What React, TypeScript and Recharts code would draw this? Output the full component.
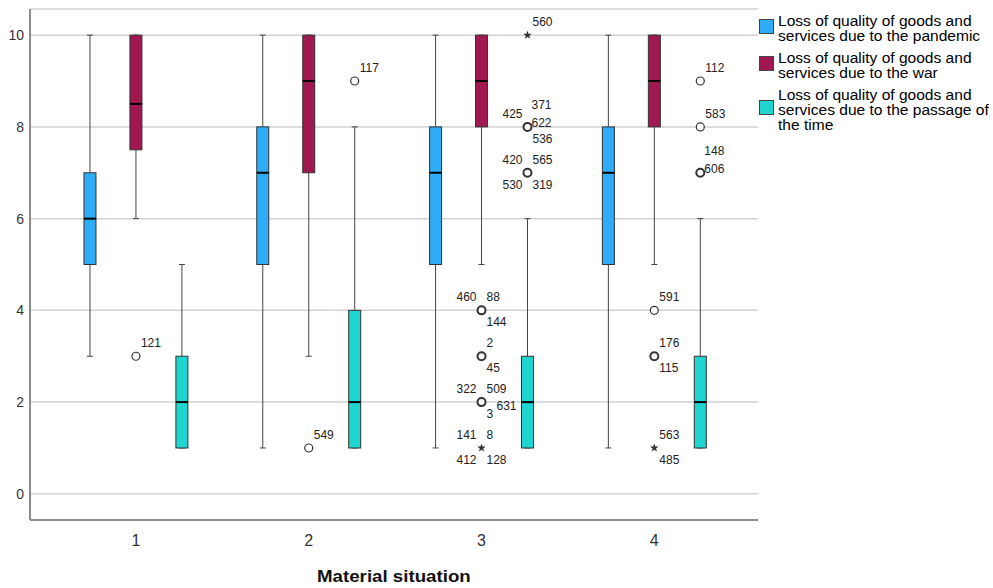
import React from 'react'
import { ComposedChart, Bar, Scatter, XAxis, YAxis, CartesianGrid, Cell } from 'recharts'

// groups on the x axis
const groups = [1, 2, 3, 4]
const groupTicks = ['1', '2', '3', '4']
const yTicks = [0, 2, 4, 6, 8, 10]

const seriesNames = [
  ['Loss of quality of goods and', 'services due to the pandemic'],
  ['Loss of quality of goods and', 'services due to the war'],
  ['Loss of quality of goods and', 'services due to the passage of', 'the time'],
]
const seriesColors = ['#2eacf8', '#a0184f', '#20d5cf']

// [min, q1, median, q3, max] per group
const pandemicStats = [
  [3, 5, 6, 7, 10],
  [1, 5, 7, 8, 10],
  [1, 5, 7, 8, 10],
  [1, 5, 7, 8, 10],
]
const warStats = [
  [6, 7.5, 8.5, 10, 10],
  [3, 7, 9, 10, 10],
  [5, 8, 9, 10, 10],
  [5, 8, 9, 10, 10],
]
const passageStats = [
  [1, 1, 2, 3, 5],
  [1, 1, 2, 4, 8],
  [1, 1, 2, 3, 6],
  [1, 1, 2, 3, 6],
]

// outliers: o = circle, * = extreme; labels are case numbers
const warOutliers = [
  { group: 1, value: 3, kind: 'o', labels: [['121', 'ur']] },
  { group: 2, value: 1, kind: 'o', labels: [['549', 'ur']] },
  { group: 3, value: 4, kind: 'o', labels: [['460', 'ul'], ['88', 'ur'], ['144', 'lr']] },
  { group: 3, value: 3, kind: 'o', labels: [['2', 'ur'], ['45', 'lr']] },
  { group: 3, value: 2, kind: 'o', labels: [['322', 'ul'], ['509', 'ur'], ['631', 'rr'], ['3', 'lr']] },
  { group: 3, value: 1, kind: '*', labels: [['141', 'ul'], ['8', 'ur'], ['412', 'll'], ['128', 'lr']] },
  { group: 4, value: 4, kind: 'o', labels: [['591', 'ur']] },
  { group: 4, value: 3, kind: 'o', labels: [['176', 'ur'], ['115', 'lr']] },
  { group: 4, value: 1, kind: '*', labels: [['563', 'ur'], ['485', 'lr']] },
]
const passageOutliers = [
  { group: 2, value: 9, kind: 'o', labels: [['117', 'ur']] },
  { group: 3, value: 10, kind: '*', labels: [['560', 'ur']] },
  { group: 3, value: 8, kind: 'o', labels: [['425', 'ul'], ['371', 'ur2'], ['622', 'r'], ['536', 'lr']] },
  { group: 3, value: 7, kind: 'o', labels: [['420', 'ul'], ['565', 'ur'], ['530', 'll'], ['319', 'lr']] },
  { group: 4, value: 9, kind: 'o', labels: [['112', 'ur']] },
  { group: 4, value: 8, kind: 'o', labels: [['583', 'ur']] },
  { group: 4, value: 7, kind: 'o', labels: [['148', 'ur2'], ['606', 'r']] },
]

// side-by-side offset of the three boxes inside a group (x units)
const SERIES_OFFSET = [-0.266, 0, 0.266]

const boxRows = [pandemicStats, warStats, passageStats].flatMap((stats, s) =>
  stats.map((st, g) => ({
    x: groups[g] + SERIES_OFFSET[s],
    range: [st[1], st[3]],
    min: st[0],
    q1: st[1],
    med: st[2],
    q3: st[3],
    max: st[4],
    s,
  }))
)

const outlierRows = [
  ...warOutliers.map((o) => ({ ...o, x: o.group + SERIES_OFFSET[1], y: o.value })),
  ...passageOutliers.map((o) => ({ ...o, x: o.group + SERIES_OFFSET[2], y: o.value })),
]

const FONT = '"Liberation Sans", Arial, sans-serif'

function BoxShape(props: any) {
  const { x, y, width, height, payload } = props
  const { min, q1, med, q3, max, s } = payload
  const k = Math.abs(height) / (q3 - q1)
  const top = Math.min(y, y + height)
  const py = (v: number) => top + (q3 - v) * k
  const cx = x + width / 2
  return (
    <g>
      <line x1={cx} x2={cx} y1={py(max)} y2={py(q3)} stroke="#444" strokeWidth={1} />
      <line x1={cx} x2={cx} y1={py(q1)} y2={py(min)} stroke="#444" strokeWidth={1} />
      <line x1={cx - 3} x2={cx + 3} y1={py(max)} y2={py(max)} stroke="#444" strokeWidth={1} />
      <line x1={cx - 3} x2={cx + 3} y1={py(min)} y2={py(min)} stroke="#444" strokeWidth={1} />
      <rect x={x} y={py(q3)} width={width} height={py(q1) - py(q3)} fill={seriesColors[s]} stroke="#333" strokeWidth={1} />
      <line x1={x} x2={x + width} y1={py(med)} y2={py(med)} stroke="#000" strokeWidth={2} />
    </g>
  )
}

const labelPos: Record<string, [number, number, string]> = {
  ul: [-5, -13, 'end'],
  ur: [5, -13, 'start'],
  ur2: [4, -22, 'start'],
  r: [4, -4, 'start'],
  rr: [15, 4, 'start'],
  lr: [5, 12, 'start'],
  ll: [-5, 12, 'end'],
}

function starPath(cx: number, cy: number, r: number) {
  const pts: string[] = []
  for (let i = 0; i < 10; i++) {
    const rr = i % 2 === 0 ? r : r * 0.4
    const a = -Math.PI / 2 + (i * Math.PI) / 5
    pts.push(`${cx + rr * Math.cos(a)},${cy + rr * Math.sin(a)}`)
  }
  return 'M' + pts.join('L') + 'Z'
}

function OutlierShape(props: any) {
  const { cx, cy, payload } = props
  const bold = payload.labels.length > 1
  return (
    <g>
      {payload.kind === 'o' ? (
        <circle cx={cx} cy={cy} r={4} fill="#fff" stroke="#333" strokeWidth={bold ? 2 : 1.2} />
      ) : (
        <path d={starPath(cx, cy, 4.5)} fill="#333" />
      )}
      {payload.labels.map(([txt, pos]: [string, string]) => {
        const [dx, dy, anchor] = labelPos[pos]
        return (
          <text key={txt} x={cx + dx} y={cy + dy} textAnchor={anchor as any} dominantBaseline="central"
            fontSize={12} fontFamily={FONT} fill="#222">
            {txt}
          </text>
        )
      })}
    </g>
  )
}

export default function App() {
  return (
    <div style={{ position: 'absolute', left: 0, top: 0, width: 993, height: 588, background: '#fff', fontFamily: FONT }}>
      <ComposedChart width={993} height={588} data={boxRows} margin={{ top: 9, right: 235, bottom: 38, left: 0 }}>
        <CartesianGrid vertical={false} stroke="#d2d2d2" strokeWidth={1.5} />
        <XAxis
          type="number"
          dataKey="x"
          domain={[0.387, 4.6]}
          ticks={groups}
          tickFormatter={(v) => groupTicks[groups.indexOf(v)] ?? ''}
          allowDataOverflow
          height={30}
          tickLine={false}
          tickSize={0}
          tickMargin={15}
          axisLine={{ stroke: '#8c8c8c', strokeWidth: 2 }}
          tick={{ fill: '#333', fontSize: 16, fontFamily: FONT }}
        />
        <YAxis
          type="number"
          domain={[-0.57, 10.57]}
          ticks={yTicks}
          allowDataOverflow
          width={30}
          tickLine={false}
          tickSize={4}
          tickMargin={2}
          axisLine={{ stroke: '#8c8c8c', strokeWidth: 2 }}
          tick={{ fill: '#333', fontSize: 14, fontFamily: FONT }}
        />
        <Bar dataKey="range" barSize={12} shape={<BoxShape />} isAnimationActive={false}>
          {boxRows.map((r, i) => (
            <Cell key={i} fill={seriesColors[r.s]} />
          ))}
        </Bar>
        <Scatter data={outlierRows} dataKey="y" shape={<OutlierShape />} isAnimationActive={false} />
      </ComposedChart>

      <div style={{ position: 'absolute', left: 317, top: 567, fontWeight: 'bold', fontSize: 17, color: '#111', whiteSpace: 'nowrap', transform: 'scaleX(1.1)', transformOrigin: 'left top' }}>
        Material situation
      </div>

      <div style={{ position: 'absolute', left: 759, top: 14, fontSize: 14, lineHeight: '15px', color: '#000' }}>
        {seriesNames.map((lines, i) => (
          <div key={i} style={{ display: 'flex', alignItems: 'center', marginBottom: 7 }}>
            <div style={{ width: 13, height: 13, background: seriesColors[i], border: '1px solid #444', marginRight: 4, flex: 'none', position: 'relative', top: -3 }} />
            <div style={{ transform: 'scaleX(1.11)', transformOrigin: 'left center' }}>
              {lines.map((l) => (
                <div key={l} style={{ whiteSpace: 'nowrap' }}>{l}</div>
              ))}
            </div>
          </div>
        ))}
      </div>
    </div>
  )
}
